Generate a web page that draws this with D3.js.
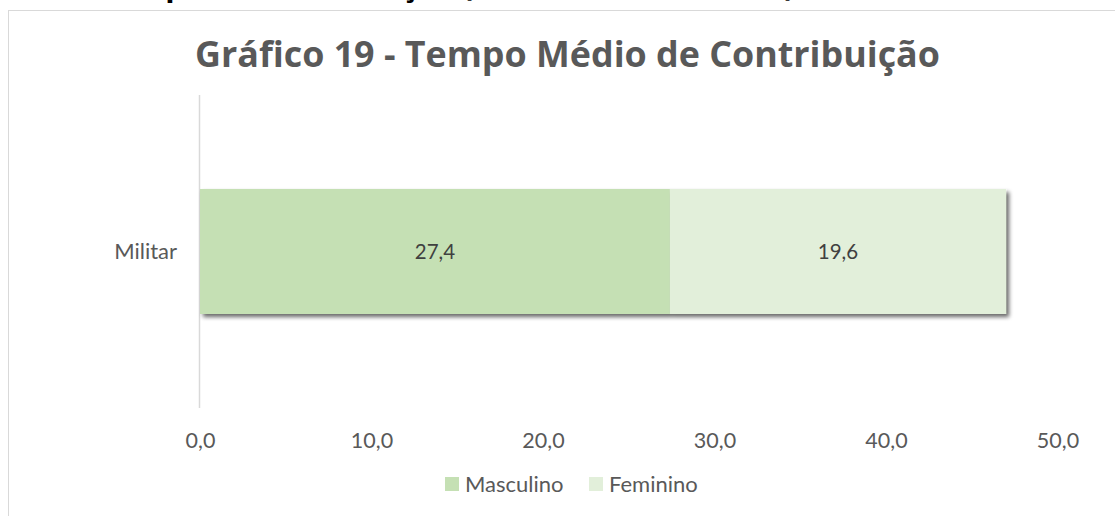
<!DOCTYPE html>
<html><head><meta charset="utf-8">
<script src="https://cdn.jsdelivr.net/npm/d3@7"></script>
<style>html,body{margin:0;padding:0;background:#fff;}svg{display:block;}</style>
</head><body>
<svg id="c" width="1115" height="516"></svg>
<script>
const categories = ["Militar"];
const seriesNames = ["Masculino", "Feminino"];
const masculino = [27.4];
const feminino = [19.6];
const tickValues = [0, 10, 20, 30, 40, 50];
const colors = ["#c5e0b4", "#e2efda"];
const font = "Lato, 'Open Sans', sans-serif";

const svg = d3.select("#c");
const defs = svg.append("defs");
const f = defs.append("filter").attr("id","sh").attr("x","-5%").attr("y","-20%").attr("width","115%").attr("height","150%");
f.append("feGaussianBlur").attr("in","SourceAlpha").attr("stdDeviation",2.2).attr("result","b");
f.append("feOffset").attr("in","b").attr("dx",2.5).attr("dy",3).attr("result","o");
f.append("feComponentTransfer").attr("in","o").attr("result","o2").append("feFuncA").attr("type","linear").attr("slope",0.6);
const m = f.append("feMerge"); m.append("feMergeNode").attr("in","o2"); m.append("feMergeNode").attr("in","SourceGraphic");

// helper: size a text so that its width matches a target
function fit(sel, target){
  const s = +sel.attr("font-size");
  const w = sel.node().getComputedTextLength();
  sel.attr("font-size", s*target/w);
}

// clipped heading above the chart (only its bottom edge is visible)
const probe = svg.append("text").attr("font-family","'Open Sans', sans-serif").attr("font-weight","bold").attr("font-size",24)
  .text("po de Contribuição (Base Setembro/2017)");
const hs = 24*630/probe.node().getComputedTextLength();
probe.remove();
svg.append("text").attr("x", 795).attr("y", -4).attr("text-anchor","end")
  .attr("font-family","'Open Sans', sans-serif").attr("font-weight","bold").attr("font-size",hs).attr("fill","#000")
  .text("Tempo de Contribuição (Base Setembro/2017)");

// chart border
svg.append("rect").attr("x",8.5).attr("y",10.5).attr("width",1200).attr("height",600)
  .attr("fill","#fff").attr("stroke","#d9d9d9").attr("stroke-width",1);

// title
const title = svg.append("text").attr("x",567.5).attr("y",67).attr("text-anchor","middle")
  .attr("font-family","'Open Sans', sans-serif").attr("font-weight","bold").attr("font-size",34).attr("fill","#595959")
  .text("Gráfico 19 - Tempo Médio de Contribuição");
fit(title, 745);

const x = d3.scaleLinear().domain([0,50]).range([200,1057.5]);
const y = d3.scaleBand().domain(categories).range([95,408]).paddingInner(0.6).paddingOuter(0.3);

// axis line (vertical category axis)
svg.append("line").attr("x1",x(0)-0.5).attr("x2",x(0)-0.5).attr("y1",95).attr("y2",408)
  .attr("stroke","#d9d9d9").attr("stroke-width",1.5);

// bars
const stacked = categories.map((c,i)=>({c, segs:[
  {name:seriesNames[0], x0:0, x1:masculino[i], v:masculino[i], col:colors[0]},
  {name:seriesNames[1], x0:masculino[i], x1:masculino[i]+feminino[i], v:feminino[i], col:colors[1]}]}));

const bh = 125;
const g = svg.append("g");
stacked.forEach(d=>{
  const yc = y(d.c) + y.bandwidth()/2;
  g.append("g").attr("filter","url(#sh)").selectAll("rect").data(d.segs).join("rect")
    .attr("x",s=>x(s.x0)).attr("width",s=>x(s.x1)-x(s.x0))
    .attr("y",yc-bh/2).attr("height",bh).attr("fill",s=>s.col);
  g.selectAll(null).data(d.segs).join("text")
    .attr("x",s=>(x(s.x0)+x(s.x1))/2).attr("y",yc).attr("dy","0.35em").attr("text-anchor","middle")
    .attr("font-family",font).attr("font-size",20.5).attr("fill","#404040")
    .text(s=>d3.format(".1f")(s.v).replace(".",","));
  svg.append("text").attr("x",177).attr("y",yc).attr("dy","0.35em").attr("text-anchor","end")
    .attr("font-family",font).attr("font-size",22).attr("fill","#595959").text(d.c);
});

// x axis labels
const xa = svg.append("g").attr("transform","translate(0,440.5)").call(d3.axisBottom(x).tickValues(tickValues).tickSize(0).tickFormat(v=>d3.format(".1f")(v).replace(".",",")));
xa.select(".domain").remove();
xa.selectAll("text").attr("y",0).attr("dy","0.35em").attr("font-family",font).attr("font-size",21.5).attr("fill","#595959");

// legend
const lg = svg.append("g");
const lx = [445, 589];
seriesNames.forEach((n,i)=>{
  lg.append("rect").attr("x",lx[i]).attr("y",477).attr("width",14).attr("height",14).attr("fill",colors[i]);
  lg.append("text").attr("x",lx[i]+20).attr("y",484.5).attr("dy","0.35em").attr("font-family",font).attr("font-size",22).attr("fill","#595959").text(n);
});
</script>
</body></html>
